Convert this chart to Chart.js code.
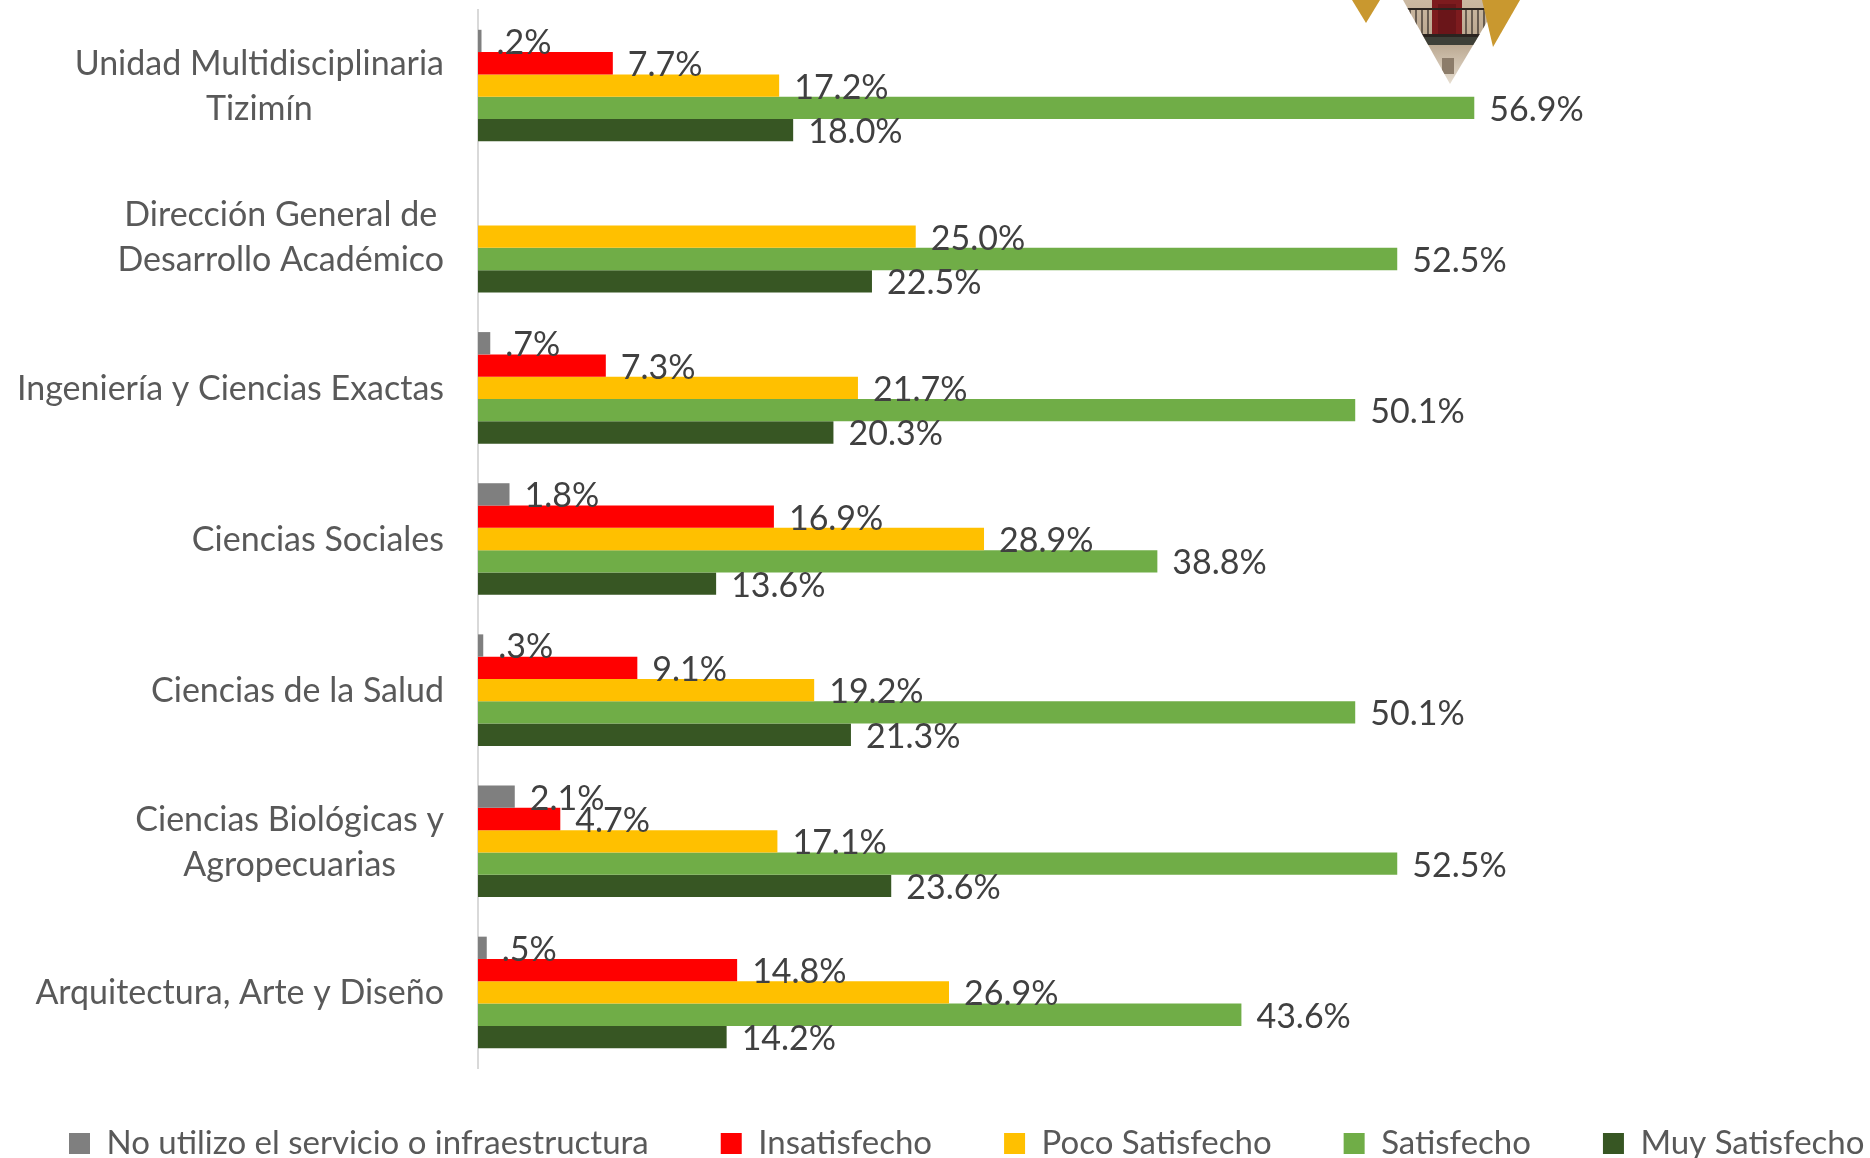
<!DOCTYPE html>
<html>
<head>
<meta charset="utf-8">
<title>Satisfaccion por dependencia</title>
<script src="https://cdn.jsdelivr.net/npm/chart.js@4.4.1/dist/chart.umd.min.js"></script>
<style>
    body { margin: 0; background: #fff; }
    #wrap { position: relative; width: 1870px; height: 1158px; }
    #logo { position: absolute; left: 1340px; top: 0; }
</style>
</head>
<body>
<div id="wrap">
    <canvas id="satisfaccion" width="1870" height="1158"></canvas>
    <!-- logo decorativo de la esquina -->
    <svg id="logo" width="190" height="90" viewBox="0 0 190 90">
        <defs>
            <linearGradient id="muro" x1="0" y1="0" x2="0" y2="1">
                <stop offset="0" stop-color="#cbb9a2"/>
                <stop offset="0.5" stop-color="#b9a68e"/>
                <stop offset="1" stop-color="#e6ddd0"/>
            </linearGradient>
            <clipPath id="tri">
                <polygon points="63,0 160,0 110,84"/>
            </clipPath>
        </defs>
        <g clip-path="url(#tri)">
            <rect x="60" y="0" width="100" height="84" fill="url(#muro)"/>
            <rect x="92" y="0" width="30" height="37" fill="#7d1b1e"/>
            <rect x="98" y="4" width="18" height="30" fill="#5e1216" opacity="0.6"/>
            <rect x="60" y="8" width="100" height="2" fill="#2a2420"/>
            <rect x="60" y="34" width="100" height="3" fill="#2a2420"/>
            <rect x="60" y="37" width="100" height="8" fill="#3e4038"/>
            <g stroke="#2a2420" stroke-width="1.2">
                <line x1="70" y1="10" x2="70" y2="34"/>
                <line x1="76" y1="10" x2="76" y2="34"/>
                <line x1="82" y1="10" x2="82" y2="34"/>
                <line x1="88" y1="10" x2="88" y2="34"/>
                <line x1="126" y1="10" x2="126" y2="34"/>
                <line x1="132" y1="10" x2="132" y2="34"/>
                <line x1="138" y1="10" x2="138" y2="34"/>
                <line x1="144" y1="10" x2="144" y2="34"/>
            </g>
            <rect x="102" y="58" width="12" height="16" fill="#8c7c6a"/>
        </g>
        <polygon points="12,0 40,0 26,23" fill="#c9982f"/>
        <polygon points="142,0 180,0 153,47" fill="#c9982f"/>
    </svg>
</div>

<script>
var categorias = [
    ["Unidad Multidisciplinaria", "Tizimín"],
    ["Dirección General de", "Desarrollo Académico"],
    ["Ingeniería y Ciencias Exactas"],
    ["Ciencias Sociales"],
    ["Ciencias de la Salud"],
    ["Ciencias Biológicas y", "Agropecuarias"],
    ["Arquitectura, Arte y Diseño"]
];

// porcentajes por nivel de satisfaccion
var noUtilizo     = [0.2, null, 0.7, 1.8, 0.3, 2.1, 0.5];
var insatisfecho  = [7.7, null, 7.3, 16.9, 9.1, 4.7, 14.8];
var pocoSatisf    = [17.2, 25.0, 21.7, 28.9, 19.2, 17.1, 26.9];
var satisfecho    = [56.9, 52.5, 50.1, 38.8, 50.1, 52.5, 43.6];
var muySatisfecho = [18.0, 22.5, 20.3, 13.6, 21.3, 23.6, 14.2];

var series = ["No utilizo el servicio o infraestructura", "Insatisfecho", "Poco Satisfecho", "Satisfecho", "Muy Satisfecho"];
var colores = ["#7F7F7F", "#FF0000", "#FFC000", "#70AD47", "#375623"];

var fuente = "Lato, 'Open Sans', sans-serif";

// formato tipo Excel: .2%  18.0%
var fmt = function (v) {
    var s = v.toFixed(1);
    if (s.indexOf("0.") === 0) s = s.substring(1);
    return s + "%";
};

var etiquetasDatos = {
    id: 'etiquetasDatos',
    afterDatasetsDraw: function (chart) {
        var ctx = chart.ctx;
        ctx.save();
        ctx.font = "34px " + fuente;
        ctx.fillStyle = "#404040";
        ctx.textAlign = "left";
        ctx.textBaseline = "middle";
        chart.data.datasets.forEach(function (ds, i) {
            var meta = chart.getDatasetMeta(i);
            meta.data.forEach(function (bar, j) {
                var v = ds.data[j];
                if (v === null) return;
                ctx.fillText(fmt(v), bar.x + 15, bar.y + 2);
            });
        });
        ctx.restore();
    }
};

// etiquetas de categoria: bloque alineado a la derecha, lineas centradas
var etiquetasCat = {
    id: 'etiquetasCat',
    afterDraw: function (chart) {
        var ctx = chart.ctx;
        var yScale = chart.scales.y;
        var derecha = yScale.right - 34;
        var alto = 45;
        ctx.save();
        ctx.font = "34px " + fuente;
        ctx.fillStyle = "#595959";
        ctx.textAlign = "center";
        ctx.textBaseline = "middle";
        categorias.forEach(function (lineas, i) {
            var yc = yScale.getPixelForValue(i);
            var w = 0;
            lineas.forEach(function (t) { w = Math.max(w, ctx.measureText(t).width); });
            var y0 = yc - (lineas.length - 1) * alto / 2;
            lineas.forEach(function (t, k) {
                ctx.fillText(t, derecha - w / 2, y0 + k * alto + 1);
            });
        });
        ctx.restore();
    }
};

// leyenda en una sola fila, ancha como en el original (empieza en x=69)
var ajusteLeyenda = {
    id: 'ajusteLeyenda',
    beforeInit: function (chart) {
        var fitOrig = chart.legend.fit;
        chart.legend.fit = function () {
            var mw = this.maxWidth;
            this.maxWidth = mw + 400;
            fitOrig.bind(this)();
            this.maxWidth = mw;
            this.width = mw;
            this.height = 90;
        };
    },
    afterLayout: function (chart) {
        var lg = chart.legend;
        var pad = lg.options.labels.padding;
        var L = lg.lineWidths[0];
        lg.top -= 13;
        lg.right = 2200;
        lg.left = 2 * 69 - pad + L - lg.right;
    }
};

var valores = [noUtilizo, insatisfecho, pocoSatisf, satisfecho, muySatisfecho];
var datasets = series.map(function (nombre, i) {
    return {
        label: nombre,
        data: valores[i],
        backgroundColor: colores[i],
        borderWidth: 0
    };
});

var ctxl = document.getElementById("satisfaccion");
var grafica = new Chart(ctxl, {
    type: 'bar',
    data: {
        labels: categorias.map(function (c) { return c.join(" "); }),
        datasets: datasets
    },
    options: {
        indexAxis: 'y',
        responsive: false,
        animation: false,
        categoryPercentage: 0.738,
        barPercentage: 1,
        layout: { padding: { top: 10, left: 0, right: 0, bottom: 0 } },
        scales: {
            x: {
                display: false,
                min: 0,
                max: 79.5
            },
            y: {
                grid: { display: false },
                border: { display: true, color: "#D9D9D9", width: 2 },
                ticks: { display: false },
                afterFit: function (scale) { scale.width = 478; }
            }
        },
        plugins: {
            tooltip: { enabled: false },
            legend: {
                position: 'bottom',
                labels: {
                    boxWidth: 21,
                    boxHeight: 21,
                    padding: 72,
                    color: "#595959",
                    font: { family: fuente, size: 33 }
                }
            }
        }
    },
    plugins: [etiquetasDatos, etiquetasCat, ajusteLeyenda]
});
</script>
</body>
</html>
